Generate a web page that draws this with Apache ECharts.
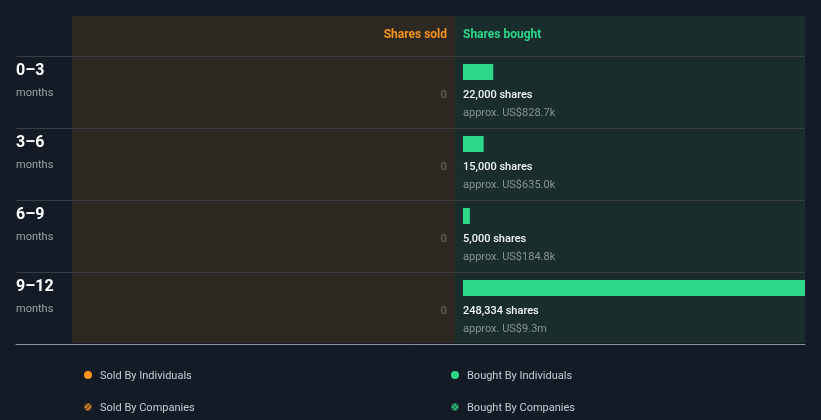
<!DOCTYPE html>
<html><head><meta charset="utf-8">
<script src="https://cdn.jsdelivr.net/npm/echarts@6/dist/echarts.min.js"></script>
<style>html,body{margin:0;padding:0;background:#151b26;}#c{width:821px;height:420px;}</style>
</head><body><div id="c"></div>
<script>
var periods = ['0–3', '3–6', '6–9', '9–12'];
var periodUnit = 'months';
var soldShares = [0, 0, 0, 0];
var boughtShares = [22000, 15000, 5000, 248334];
var boughtValue = ['US$828.7k', 'US$635.0k', 'US$184.8k', 'US$9.3m'];
var legendItems = ['Sold By Individuals', 'Bought By Individuals', 'Sold By Companies', 'Bought By Companies'];

var ORANGE = '#f7931e', GREEN = '#2ed88a';
var FONT = 'Roboto, "Noto Sans", sans-serif';
function fmt(n){return n.toLocaleString('en-US');}

var chart = echarts.init(document.getElementById('c'), null, {renderer:'canvas'});
var data = boughtShares.map(function(v,i){return [v, i];});

function hatchIcon(x, y, color){
  return {type:'group', children:[
    {type:'circle', shape:{cx:x, cy:y, r:4}, style:{fill:color, opacity:0.35}},
    {type:'line', shape:{x1:x-3, y1:y+1, x2:x+1, y2:y-3}, style:{stroke:color, lineWidth:1.2}},
    {type:'line', shape:{x1:x-1, y1:y+3, x2:x+3, y2:y-1}, style:{stroke:color, lineWidth:1.2}}
  ]};
}

var option = {
  backgroundColor:'#151b26',
  animation:false,
  graphic:[
    {type:'rect', z:-10, shape:{x:72, y:16, width:383, height:327}, style:{fill:'#2d2922'}},
    {type:'rect', z:-10, shape:{x:455, y:16, width:350, height:327}, style:{fill:'#182d2c'}},
    {type:'text', x:447, y:35, style:{text:'Shares sold', fill:ORANGE, font:'bold 12px '+FONT, align:'right', verticalAlign:'middle'}},
    {type:'text', x:463, y:35, style:{text:'Shares bought', fill:GREEN, font:'bold 12px '+FONT, align:'left', verticalAlign:'middle'}},
    {type:'circle', shape:{cx:88, cy:375, r:4}, style:{fill:ORANGE}},
    {type:'text', x:100, y:376, style:{text:legendItems[0], fill:'#c8ccd2', font:'11px '+FONT, verticalAlign:'middle'}},
    {type:'circle', shape:{cx:455, cy:375, r:4}, style:{fill:GREEN}},
    {type:'text', x:467, y:376, style:{text:legendItems[1], fill:'#c8ccd2', font:'11px '+FONT, verticalAlign:'middle'}},
    hatchIcon(88, 407, ORANGE),
    {type:'text', x:100, y:408, style:{text:legendItems[2], fill:'#c8ccd2', font:'11px '+FONT, verticalAlign:'middle'}},
    hatchIcon(455, 407, GREEN),
    {type:'text', x:467, y:408, style:{text:legendItems[3], fill:'#c8ccd2', font:'11px '+FONT, verticalAlign:'middle'}}
  ],
  grid:[
    {left:16, right:16, top:56, height:288},
    {left:463, right:16, top:56, height:288}
  ],
  xAxis:[
    {gridIndex:0, type:'value', min:0, max:1, axisLabel:{show:false}, axisTick:{show:false}, splitLine:{show:false},
     axisLine:{show:true, lineStyle:{color:'#8a9098', width:1}}},
    {gridIndex:1, type:'value', min:0, max:248334, show:false}
  ],
  yAxis:[
    {gridIndex:0, type:'category', data:periods, inverse:true, axisLabel:{show:false}, axisTick:{show:false}, axisLine:{show:false},
     splitLine:{show:true, lineStyle:{color:'#3a3e44', width:1}}},
    {gridIndex:1, type:'category', data:periods, inverse:true, show:false}
  ],
  series:[
    {
      type:'custom', xAxisIndex:1, yAxisIndex:1, data:data, clip:false,
      renderItem:function(params, api){
        var i = api.value(1);
        var v = api.value(0);
        var p0 = api.coord([0, i]);
        var p1 = api.coord([v, i]);
        var band = api.size([0, 1])[1];
        var top = p0[1] - band/2;
        return {type:'group', children:[
          {type:'rect', shape:{x:p0[0], y:top+8, width:p1[0]-p0[0], height:16}, style:{fill:GREEN}},
          {type:'text', x:p0[0], y:top+39, style:{text:fmt(v)+' shares', fill:'#f2f4f5', font:'500 11px '+FONT, verticalAlign:'middle'}},
          {type:'text', x:p0[0], y:top+57, style:{text:'approx. '+boughtValue[i], fill:'#8a9396', font:'11px '+FONT, verticalAlign:'middle'}},
          {type:'text', x:p0[0]-16, y:top+39, style:{text:fmt(soldShares[i]), fill:'#6e6b66', font:'11px '+FONT, align:'right', verticalAlign:'middle'}},
          {type:'text', x:16, y:top+15, style:{text:periods[i], fill:'#ffffff', font:'bold 16px '+FONT, verticalAlign:'middle'}},
          {type:'text', x:16, y:top+37, style:{text:periodUnit, fill:'#9aa0a6', font:'11px '+FONT, verticalAlign:'middle'}}
        ]};
      }
    }
  ]
};
chart.setOption(option);
</script>
</body></html>
